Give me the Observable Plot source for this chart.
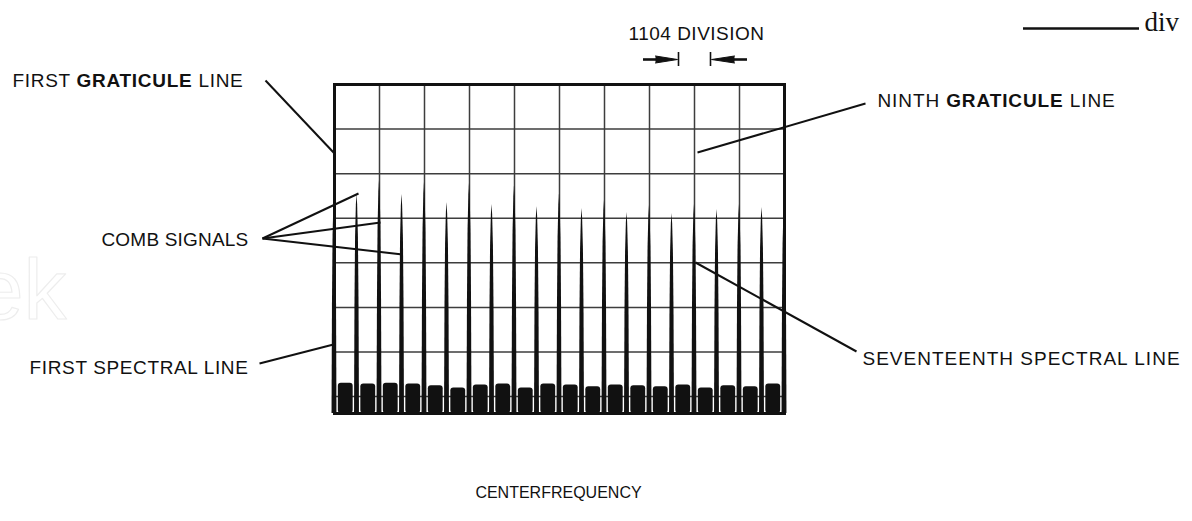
<!DOCTYPE html>
<html><head><meta charset="utf-8">
<script src="https://cdn.jsdelivr.net/npm/d3@7"></script>
<script src="https://cdn.jsdelivr.net/npm/@observablehq/plot@0.6"></script>
<style>
  html,body{margin:0;padding:0;background:#fff;}
  #chart svg{display:block;}
</style>
</head><body><div id="chart"></div>
<script>
// Comb spectral lines: position in graticule divisions from the left edge, peak height in divisions
const linePos  = [0,0.5,1,1.5,2,2.5,3,3.5,4,4.5,5,5.5,6,6.5,7,7.5,8,8.5,9,9.5,10];
const linePeak = [5.60,5.55,5.85,5.53,5.80,5.35,5.78,5.31,5.73,5.26,5.55,5.22,5.40,5.13,5.29,5.11,5.31,5.20,5.31,5.24,5.35];
// noise floor top between adjacent spectral lines (divisions)
const noiseTop = [1.30,1.28,1.30,1.28,1.24,1.19,1.26,1.28,1.19,1.28,1.26,1.22,1.26,1.24,1.22,1.26,1.19,1.24,1.22,1.28];
// graticule lines
const vGrid = [1,2,3,4,5,6,7,8,9];
const hGrid = [1,2,3,4,5,6,7];
const xDomain = [0, 10];
const yDomain = [0.62, 8];

// layout (pixels)
const W = 1192, H = 521, mL = 334, mR = 408, mT = 84, mB = 108;
const X = px => xDomain[0] + (px - mL) / (W - mL - mR) * (xDomain[1] - xDomain[0]);
const Y = py => yDomain[1] - (py - mT) / (H - mT - mB) * (yDomain[1] - yDomain[0]);

// spike outline: [dx in divisions, fraction of height]
const spikeProfile = [[-0.055,0],[-0.045,0.5],[-0.032,0.8],[-0.014,0.95],[0,1],[0.014,0.95],[0.032,0.8],[0.045,0.5],[0.055,0]];
const spikes = linePos.flatMap((p, i) => spikeProfile.map(([dx, f]) => ({
  id: i, x: p + dx, y0: yDomain[0], y: yDomain[0] + f * (linePeak[i] - yDomain[0])
})));
const noise = noiseTop.map((t, i) => ({x1: linePos[i] + 0.085, x2: linePos[i + 1] - 0.085, y0: yDomain[0], top: t}));

// annotation leader lines (pixel endpoints)
const leaders = [
  {x1: 265, y1: 80,  x2: 334, y2: 153},   // first graticule line
  {x1: 262, y1: 238, x2: 358, y2: 193},   // comb signals
  {x1: 262, y1: 238, x2: 380, y2: 222},
  {x1: 262, y1: 238, x2: 402, y2: 254},
  {x1: 259, y1: 363, x2: 333, y2: 344},   // first spectral line
  {x1: 865, y1: 103, x2: 697, y2: 152},   // ninth graticule line
  {x1: 695, y1: 262, x2: 856, y2: 351}    // seventeenth spectral line
].map(d => ({x1: X(d.x1), y1: Y(d.y1), x2: X(d.x2), y2: Y(d.y2)}));

const labelsStart = [
  {t: "FIRST GRATICULE LINE", x: 12, y: 86},
  {t: "NINTH GRATICULE LINE", x: 877, y: 106},
  {t: "SEVENTEENTH SPECTRAL LINE", x: 862, y: 364},
  {t: "1104 DIVISION", x: 628, y: 39}
].map(d => ({...d, x: X(d.x), y: Y(d.y)}));
const labelsEnd = [
  {t: "COMB SIGNALS", x: 248, y: 245},
  {t: "FIRST SPECTRAL LINE", x: 248, y: 373}
].map(d => ({...d, x: X(d.x), y: Y(d.y)}));
// rendered widths of the labels in the reference (px)
const labelWidth = {
  "FIRST GRATICULE LINE": 231, "NINTH GRATICULE LINE": 238, "SEVENTEENTH SPECTRAL LINE": 318,
  "1104 DIVISION": 136, "COMB SIGNALS": 147, "FIRST SPECTRAL LINE": 219
};

// division marker arrows
const arrowShafts = [
  {x1: X(643), x2: X(660), y: Y(59)},
  {x1: X(730), x2: X(747), y: Y(59)},
  {x1: X(1023), x2: X(1139), y: Y(28)}
];
const arrowTicks = [{x: X(678), y1: Y(52), y2: Y(66)}, {x: X(710), y1: Y(52), y2: Y(66)}];
const arrowHeads = [
  {id: 0, x: X(655), y: Y(55.5)}, {id: 0, x: X(677), y: Y(59)}, {id: 0, x: X(655), y: Y(62.5)},
  {id: 1, x: X(734), y: Y(55.5)}, {id: 1, x: X(711), y: Y(59)}, {id: 1, x: X(734), y: Y(62.5)}
];

const font = "'Liberation Sans', Arial, sans-serif";

const plot = Plot.plot({
  width: W, height: H,
  marginLeft: mL, marginRight: mR, marginTop: mT, marginBottom: mB,
  x: {domain: xDomain, axis: null},
  y: {domain: yDomain, axis: null},
  style: {background: "#fff", fontFamily: font},
  marks: [
    Plot.text([{t: "ek", x: X(66), y: Y(318)}], {x: "x", y: "y", text: "t", textAnchor: "end", lineAnchor: "bottom",
      fontSize: 86, fill: "none", stroke: "#ededed", strokeWidth: 1.2, fontFamily: font}),
    Plot.ruleX(vGrid, {x: d => d, stroke: "#3d3d3d", strokeWidth: 1.5}),
    Plot.ruleY(hGrid, {y: d => d, stroke: "#3d3d3d", strokeWidth: 1.5}),
    Plot.rect(noise, {x1: "x1", x2: "x2", y1: "y0", y2: "top", fill: "#111", rx: 3}),
    Plot.area(spikes, {x1: "x", y1: "y0", y2: "y", z: "id", fill: "#111"}),
    Plot.frame({stroke: "#111", strokeWidth: 3}),
    Plot.link(leaders, {x1: "x1", y1: "y1", x2: "x2", y2: "y2", stroke: "#111", strokeWidth: 2}),
    Plot.ruleY(arrowShafts, {y: "y", x1: "x1", x2: "x2", stroke: "#111", strokeWidth: 2.6}),
    Plot.ruleX(arrowTicks, {x: "x", y1: "y1", y2: "y2", stroke: "#111", strokeWidth: 1.6}),
    Plot.line(arrowHeads, {x: "x", y: "y", z: "id", fill: "#111", stroke: "#111", strokeWidth: 1}),
    Plot.text(labelsStart, {x: "x", y: "y", text: "t", textAnchor: "start", lineAnchor: "bottom",
      fontSize: 19, fill: "#111", fontFamily: font}),
    Plot.text(labelsEnd, {x: "x", y: "y", text: "t", textAnchor: "end", lineAnchor: "bottom",
      fontSize: 19, fill: "#111", fontFamily: font}),
    Plot.text([{t: "CENTERFREQUENCY", x: X(558), y: Y(497)}], {x: "x", y: "y", text: "t", lineAnchor: "bottom",
      fontSize: 16, fill: "#111", fontFamily: font}),
    Plot.text([{t: "div", x: X(1144), y: Y(30)}], {x: "x", y: "y", text: "t", textAnchor: "start", lineAnchor: "bottom",
      fontSize: 27, fill: "#111", fontFamily: "'Liberation Serif', 'Times New Roman', serif"})
  ]
});

// bold the word GRATICULE inside its labels
d3.select(plot).selectAll("text").each(function() {
  const el = this;
  if (el.children.length === 0 && el.textContent.includes("GRATICULE")) {
    const parts = el.textContent.split("GRATICULE");
    el.textContent = "";
    const s = d3.select(el);
    s.append("tspan").text(parts[0]);
    s.append("tspan").attr("font-weight", "bold").text("GRATICULE");
    s.append("tspan").text(parts[1]);
  }
});
document.getElementById("chart").append(plot);

// widen letter spacing so each label matches its reference width
d3.select(plot).selectAll("text").each(function() {
  const target = labelWidth[this.textContent];
  if (!target) return;
  const n = this.textContent.length;
  const w = this.getComputedTextLength();
  const ls = (target - w) / n;
  if (ls > 0) this.style.letterSpacing = ls.toFixed(2) + "px";
});
</script>
</body></html>
